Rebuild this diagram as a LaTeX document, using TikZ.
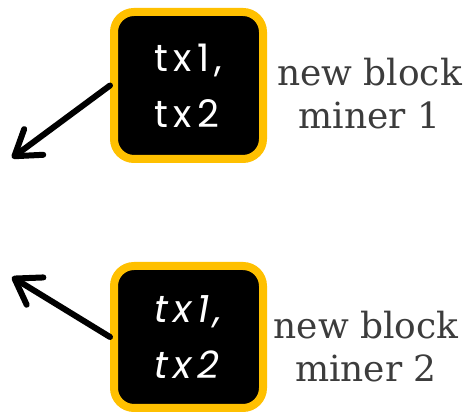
\documentclass[tikz,border=0pt]{standalone}
\usepackage{fontspec}
\usepackage{xcolor}
\usetikzlibrary{arrows.meta, positioning}
\newfontfamily\boxfont[LetterSpace=14]{Poppins}
\newfontfamily\labelfont{DejaVu Serif}
\definecolor{blockgold}{HTML}{FFC000}
\definecolor{labelgray}{HTML}{3C3C3C}

\begin{document}
\begin{tikzpicture}[
  x=1pt, y=1pt,
  block/.style={draw=blockgold, fill=black, line width=8pt, rounded corners=20pt,
    minimum width=149pt, text=white, align=left,
    font=\boxfont\fontsize{38}{56}\selectfont},
  blocklabel/.style={text=labelgray, align=center,
    font=\labelfont\fontsize{36}{43}\selectfont},
  sendarrow/.style={line width=6pt, line cap=round,
    -{Straight Barb[length=24pt, width=32pt, round]}},
]
  \useasboundingbox (0,0) rectangle (471,414);
  % Blocks
  \node[block, minimum height=147pt] (box1) at (188.5,328.5) {tx1,\\tx2};
  \node[block, minimum height=142pt] (box2) at (188.5,77) {\itshape tx1,\\\itshape tx2};
  % Labels
  \node[blocklabel] (label1) at (369.5,320) {new block\\miner 1};
  \node[blocklabel] (label2) at (366,67) {new block\\miner 2};
  % Arrow tips
  \coordinate (tip1) at (12,256);
  \coordinate (tip2) at (12,137);
  \draw[sendarrow] (box1.west) -- (tip1);
  \draw[sendarrow] (box2.west) -- (tip2);
\end{tikzpicture}
\end{document}
